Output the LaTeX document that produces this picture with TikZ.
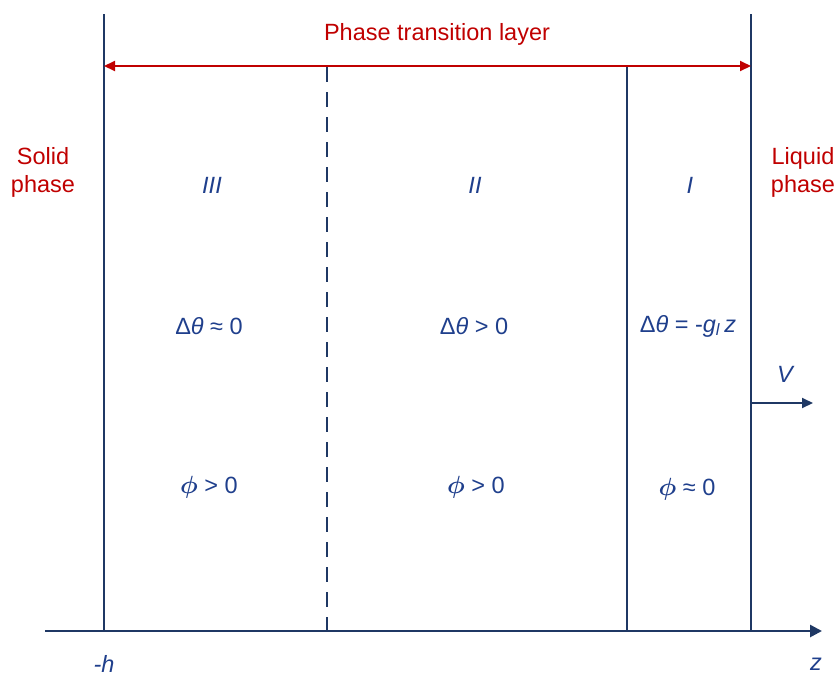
\documentclass[tikz,border=0pt]{standalone}
\usepackage{bm}
\usepackage{fontspec}
\setmainfont{Liberation Sans}
\usetikzlibrary{arrows.meta}
\definecolor{navy}{HTML}{1F3864}
\definecolor{txtblue}{HTML}{1F3F8C}
\definecolor{dred}{HTML}{C00000}
\newcommand{\myphi}{\ensuremath{\bm{\phi}}}
\tikzset{
  bound/.style={draw=navy, line width=1.8pt},
  redlbl/.style={text=dred, font=\fontsize{23.5}{28}\selectfont, align=center, inner sep=0pt},
  region/.style={text=txtblue, font=\fontsize{23.5}{25}\selectfont\itshape, inner sep=0pt},
  rel/.style={text=txtblue, font=\fontsize{23.5}{25}\selectfont, inner sep=0pt},
}
\begin{document}
\begin{tikzpicture}[x=1pt,y=-1pt]
\useasboundingbox (0,0) rectangle (838,678);
% coordinates
\coordinate (Lt) at (104,14);
\coordinate (Lb) at (104,631);
\coordinate (Dt) at (327,67);
\coordinate (Db) at (327,631);
\coordinate (Mt) at (627,67);
\coordinate (Mb) at (627,631);
\coordinate (Rt) at (751,14);
\coordinate (Rb) at (751,631);
\coordinate (Ax0) at (45,631);
\coordinate (Ax1) at (822,631);
\coordinate (Ra) at (104,66);
\coordinate (Rz) at (751,66);
\coordinate (V0) at (751,403);
\coordinate (V1) at (813,403);
% boundaries
\draw[bound] (Lt) -- (Lb);
\draw[bound, dash pattern=on 15pt off 10pt] (Dt) -- (Db);
\draw[bound] (Mt) -- (Mb);
\draw[bound] (Rt) -- (Rb);
\draw[draw=navy, line width=2.6pt, -{Triangle[length=12pt,width=12pt]}] (Ax0) -- (Ax1);
\draw[draw=dred, line width=2pt, {Triangle[length=11pt,width=10pt]}-{Triangle[length=11pt,width=10pt]}] (Ra) -- (Rz);
\draw[draw=navy, line width=2pt, -{Triangle[length=11pt,width=10pt]}] (V0) -- (V1);
% labels
\node[redlbl] (ptl) at (437,34) {Phase transition layer};
\node[redlbl] (solid) at (43,172) {Solid\\phase};
\node[redlbl] (liquid) at (803,172) {Liquid\\phase};
\node[region] (r3) at (212,185) {III};
\node[region] (r2) at (475,185) {II};
\node[region] (r1) at (690,185) {I};
\node[rel] (t3) at (209,326) {Δ\textit{θ} ≈ 0};
\node[rel] (t2) at (474,326) {Δ\textit{θ} > 0};
\node[rel] (t1) at (688,326) {Δ\textit{θ} = -\textit{g}\textsubscript{\textit{l}}\,\textit{z}};
\node[rel] (p3) at (209,487) {\myphi{} > 0};
\node[rel] (p2) at (476,487) {\myphi{} > 0};
\node[rel] (p1) at (687,489) {\myphi{} ≈ 0};
\node[region] (vlab) at (785,374) {V};
\node[region] (hlab) at (104,664) {-h};
\node[region] (zlab) at (816,664) {z};
\end{tikzpicture}
\end{document}
